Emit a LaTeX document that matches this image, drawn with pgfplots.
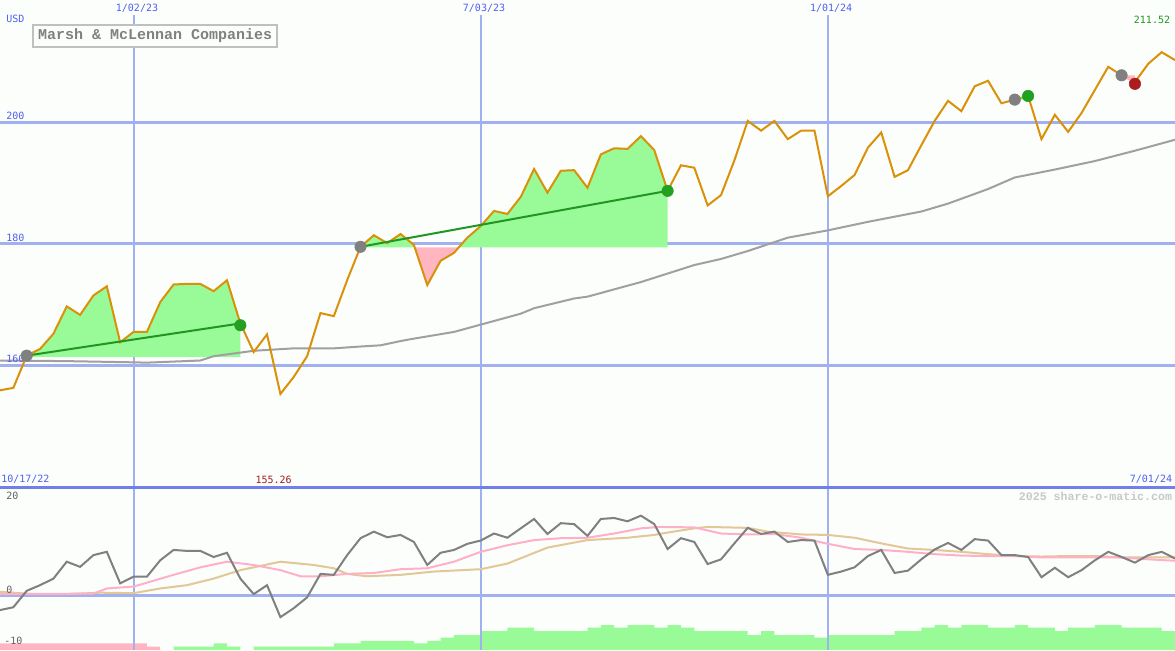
\documentclass[border=0pt]{standalone}
\usepackage{pgfplots}
\pgfplotsset{compat=1.18}
\usepackage{fontspec}
\setmainfont{Liberation Mono}
\newfontfamily\lblfont{DejaVu Sans Mono}
\definecolor{bgC}{RGB}{252,254,252}
\definecolor{gridC}{RGB}{160,176,240}
\definecolor{sepC}{RGB}{112,128,232}
\definecolor{tickC}{RGB}{80,96,240}
\definecolor{priceC}{RGB}{218,145,10}
\definecolor{maC}{RGB}{160,160,160}
\definecolor{fillG}{RGB}{152,251,152}
\definecolor{fillP}{RGB}{255,182,193}
\definecolor{trendG}{RGB}{34,150,34}
\definecolor{mkG}{RGB}{34,160,34}
\definecolor{mkGray}{RGB}{128,128,128}
\definecolor{mkR}{RGB}{170,30,30}
\definecolor{loC}{RGB}{160,30,30}
\definecolor{hiC}{RGB}{34,150,34}
\definecolor{titC}{RGB}{128,128,128}
\definecolor{boxC}{RGB}{192,192,192}
\definecolor{wmC}{RGB}{200,200,200}
\definecolor{bGray}{RGB}{128,128,128}
\definecolor{bPink}{RGB}{255,176,200}
\definecolor{bTan}{RGB}{225,200,150}
\definecolor{lblC}{RGB}{96,96,96}
\pgfplotstableread{
i price
0 155.9
1 156.3
2 161.6
3 162.7
4 165.2
5 169.7
6 168.3
7 171.5
8 173.0
9 163.8
10 165.5
11 165.5
12 170.4
13 173.3
14 173.4
15 173.4
16 172.2
17 174.0
18 166.9
19 162.2
20 165.1
21 155.3
22 158.1
23 161.5
24 168.6
25 168.1
26 174.0
27 179.5
28 181.4
29 180.1
30 181.6
31 179.8
32 173.2
33 177.2
34 178.5
35 181.0
36 182.9
37 185.4
38 184.9
39 187.7
40 192.3
41 188.4
42 192.0
43 192.1
44 189.2
45 194.7
46 195.7
47 195.6
48 197.7
49 195.4
50 188.7
51 192.9
52 192.5
53 186.3
54 188.0
55 193.7
56 200.2
57 198.6
58 200.2
59 197.2
60 198.6
61 198.6
62 187.8
63 189.5
64 191.3
65 195.8
66 198.3
67 191.0
68 192.1
69 196.2
70 200.2
71 203.5
72 201.8
73 205.9
74 206.8
75 203.1
76 203.7
77 204.3
78 197.2
79 201.2
80 198.4
81 201.5
82 205.3
83 209.1
84 207.7
85 206.6
86 209.6
87 211.5
88 210.2
}\pricetab
\pgfplotstableread{
i osc
0 -3.2
1 -2.6
2 0.9
3 2.1
4 3.5
5 7.1
6 6.0
7 8.5
8 9.2
9 2.5
10 3.9
11 3.9
12 7.4
13 9.6
14 9.4
15 9.4
16 8.1
17 9.0
18 3.5
19 0.2
20 2.1
21 -4.7
22 -2.8
23 -0.5
24 4.5
25 4.3
26 8.5
27 12.1
28 13.5
29 12.3
30 12.8
31 11.3
32 6.4
33 9.0
34 9.6
35 10.9
36 11.6
37 13.1
38 12.2
39 14.2
40 16.2
41 13.0
42 15.3
43 15.1
44 12.6
45 16.2
46 16.4
47 15.7
48 16.9
49 15.1
50 9.8
51 12.1
52 11.3
53 6.6
54 7.6
55 11.0
56 14.3
57 13.0
58 13.5
59 11.3
60 11.7
61 11.6
62 4.3
63 5.0
64 5.9
65 8.3
66 9.6
67 4.7
68 5.2
69 7.6
70 9.7
71 11.1
72 9.6
73 11.9
74 11.6
75 8.5
76 8.5
77 8.1
78 3.8
79 5.8
80 3.8
81 5.3
82 7.4
83 9.2
84 8.1
85 6.9
86 8.5
87 9.2
88 7.8
}\osctab
\begin{document}
\begin{tikzpicture}
\begin{axis}[name=top, at={(0,0)}, anchor=north west, scale only axis,
  width=881.25pt, height=365.25pt, xmin=0, xmax=88, ymin=140, ymax=220.08,
  axis lines=none, xtick=\empty, ytick=\empty, clip=false,
  axis background/.style={fill=bgC}]
\coordinate (TL) at (rel axis cs:0,1);
% grid
\draw[gridC, line width=2.25pt] (axis cs:0,160) -- (axis cs:88,160);
\draw[gridC, line width=2.25pt] (axis cs:0,180) -- (axis cs:88,180);
\draw[gridC, line width=2.25pt] (axis cs:0,200) -- (axis cs:88,200);
\draw[gridC, line width=1.5pt] (axis cs:10,217.6) -- (axis cs:10,140);
\draw[gridC, line width=1.5pt] (axis cs:36,217.6) -- (axis cs:36,140);
\draw[gridC, line width=1.5pt] (axis cs:62,217.6) -- (axis cs:62,140);
% fills
\addplot[fill=fillG, draw=none] coordinates {(2,161.4)(2,161.6)(3,162.7)(4,165.2)(5,169.7)(6,168.3)(7,171.5)(8,173.0)(9,163.8)(10,165.5)(11,165.5)(12,170.4)(13,173.3)(14,173.4)(15,173.4)(16,172.2)(17,174.0)(18,166.9)(18,161.4)};
\addplot[fill=fillG, draw=none] coordinates {(27,179.4)(27,179.5)(28,181.4)(29,180.1)(30,181.6)(31,179.8)(31.05,179.4)};
\addplot[fill=fillP, draw=none] coordinates {(31.05,179.4)(32,173.2)(33,177.2)(34,178.5)(34.4,179.4)};
\addplot[fill=fillG, draw=none] coordinates {(34.4,179.4)(35,181.0)(36,182.9)(37,185.4)(38,184.9)(39,187.7)(40,192.3)(41,188.4)(42,192.0)(43,192.1)(44,189.2)(45,194.7)(46,195.7)(47,195.6)(48,197.7)(49,195.4)(50,188.7)(50,179.4)};
\addplot[fill=fillG, draw=none] coordinates {(76,203.7)(77,204.3)(77,203.7)};
\addplot[fill=fillP, draw=none] coordinates {(84,207.7)(85,206.6)(85,207.7)};
% moving average
\addplot[maC, line width=1.5pt] coordinates {(0,160.8)(5,160.7)(10,160.5)(11,160.45)(15,160.8)(16,161.5)(19,162.4)(22,162.8)(25,162.8)(27,163.1)(28.5,163.3)(30,164.0)(31,164.4)(34,165.5)(36,166.7)(39,168.5)(40,169.4)(43,171.0)(44,171.3)(48,173.7)(50,175.1)(52,176.5)(54,177.5)(56,178.8)(59,181.0)(62,182.2)(65,183.6)(69,185.3)(71,186.6)(74,189.0)(76,190.9)(79,192.2)(82,193.6)(85,195.3)(88,197.1)};
% price
\addplot[priceC, line width=1.5pt] table[x=i, y=price] {\pricetab};
% trend lines
\addplot[trendG, line width=1.5pt] coordinates {(2,161.6)(18,166.9)};
\addplot[trendG, line width=1.5pt] coordinates {(27,179.5)(50,188.7)};
\addplot[yellow!60!green, line width=1.5pt] coordinates {(76,203.7)(77,204.3)};
\addplot[fillP, line width=1.5pt] coordinates {(84,207.7)(85,206.6)};
% markers
\addplot[only marks, mark=*, mark size=4.3pt, mkGray] coordinates {(2,161.6)(27,179.5)(76,203.7)(84,207.7)};
\addplot[only marks, mark=*, mark size=4.3pt, mkG] coordinates {(18,166.6)(50,188.7)(77,204.3)};
\addplot[only marks, mark=*, mark size=4.3pt, mkR] coordinates {(85,206.3)};
% labels
\node[tickC, anchor=west, inner sep=0pt, font=\lblfont\fontsize{7.5}{9}\selectfont] at (axis cs:0.45,217.0) {USD};
\node[tickC, inner sep=0pt, font=\lblfont\fontsize{7.5}{9}\selectfont] at (axis cs:10.26,218.8) {1/02/23};
\node[tickC, inner sep=0pt, font=\lblfont\fontsize{7.5}{9}\selectfont] at (axis cs:36.25,218.8) {7/03/23};
\node[tickC, inner sep=0pt, font=\lblfont\fontsize{7.5}{9}\selectfont] at (axis cs:62.25,218.8) {1/01/24};
\node[hiC, anchor=east, inner sep=0pt, font=\lblfont\fontsize{7.5}{9}\selectfont] at (axis cs:87.65,216.8) {211.52};
\node[tickC, anchor=west, inner sep=0pt, font=\lblfont\fontsize{7.5}{9}\selectfont] at (axis cs:0.45,201.0) {200};
\node[tickC, anchor=west, inner sep=0pt, font=\lblfont\fontsize{7.5}{9}\selectfont] at (axis cs:0.45,181.0) {180};
\node[tickC, anchor=west, inner sep=0pt, font=\lblfont\fontsize{7.5}{9}\selectfont] at (axis cs:0.45,161.1) {160};
\node[tickC, anchor=west, inner sep=0pt, font=\lblfont\fontsize{7.5}{9}\selectfont] at (axis cs:0.08,141.2) {10/17/22};
\node[loC, inner sep=0pt, font=\lblfont\fontsize{7.5}{9}\selectfont] at (axis cs:20.49,141.2) {155.26};
\node[tickC, anchor=east, inner sep=0pt, font=\lblfont\fontsize{7.5}{9}\selectfont] at (axis cs:87.8,141.2) {7/01/24};
\node[draw=boxC, line width=1.5pt, fill=bgC, text=titC, font=\bfseries\fontsize{11.25}{13}\selectfont, inner xsep=4pt, inner ysep=0pt, minimum height=17pt] at (axis cs:11.61,214.15) {Marsh \& McLennan Companies};
\end{axis}
\begin{axis}[name=bot, at={(top.south west)}, anchor=north west, scale only axis,
  width=881.25pt, height=122.25pt, xmin=0, xmax=88, ymin=-11.7, ymax=23,
  axis lines=none, xtick=\empty, ytick=\empty, clip=false,
  axis background/.style={fill=bgC}]
\coordinate (BR) at (rel axis cs:1,0);
% bars
\addplot[fill=fillP, draw=none, const plot] coordinates {(0,-11.7)(0,-10.28)(11,-11.0)(12,-11.7)};
\addplot[fill=fillG, draw=none, const plot] coordinates {(13,-11.7)(13,-11.0)(16,-10.28)(17,-11.0)(18,-11.7)};
\addplot[fill=fillG, draw=none, const plot] coordinates {(19,-11.7)(19,-11.0)(25,-10.28)(27,-9.74)(31,-10.28)(32,-9.74)(33,-9.09)(34,-8.51)(36,-7.66)(38,-6.96)(40,-7.66)(44,-6.96)(45,-6.38)(46,-6.96)(47,-6.38)(49,-6.96)(50,-6.38)(51,-6.96)(52,-7.66)(56,-8.51)(57,-7.66)(58,-8.51)(61,-9.09)(62,-8.51)(67,-7.66)(69,-6.96)(70,-6.38)(71,-6.96)(72,-6.38)(74,-6.96)(76,-6.38)(77,-6.96)(79,-7.66)(80,-6.96)(82,-6.38)(84,-6.96)(87,-7.66)(88,-7.66)(88,-11.7)};
% grid
\draw[gridC, line width=2.25pt] (axis cs:0,0) -- (axis cs:88,0);
\draw[gridC, line width=1.5pt] (axis cs:10,23) -- (axis cs:10,-11.7);
\draw[gridC, line width=1.5pt] (axis cs:36,23) -- (axis cs:36,-11.7);
\draw[gridC, line width=1.5pt] (axis cs:62,23) -- (axis cs:62,-11.7);
\draw[sepC, line width=2.25pt] (axis cs:0,23) -- (axis cs:88,23);
% lines
\addplot[bTan, line width=1.5pt] coordinates {(0,0.7)(2.5,0.2)(5,0.2)(7.5,0.5)(10,0.4)(12,1.4)(14,2.1)(16,3.5)(18,5.3)(19.5,6.2)(21,7.1)(23.5,6.4)(25,5.7)(26,4.5)(27.5,4.0)(30,4.3)(32.5,5.0)(36,5.5)(38,6.7)(41,10.1)(44,11.7)(47,12.2)(49,12.8)(50,13.3)(52,14.2)(53,14.5)(56,14.3)(57.5,13.5)(60,12.9)(62,12.8)(64,12.2)(66,11.0)(68,9.9)(70,9.6)(72,9.2)(74,8.7)(76,8.3)(78,8.2)(80,8.3)(82,8.3)(84,8.0)(86,8.0)(88,8.0)};
\addplot[bPink, line width=1.5pt] coordinates {(0,0.2)(7,0.3)(8,1.4)(10,1.8)(13,4.3)(15,5.9)(17,7.1)(19,6.4)(21,5.3)(22.5,4.0)(24,4.0)(26,4.5)(28,4.7)(30,5.5)(32,5.7)(34,7.1)(36,9.2)(38,10.6)(40,11.7)(42,12.1)(44,12.2)(46,13.1)(48,14.2)(49.4,14.5)(52,14.4)(54,13.1)(56,12.9)(58,13.0)(60,12.2)(62,10.9)(64,9.8)(66,9.6)(68,9.2)(70,8.7)(72,8.4)(74,8.3)(76,8.3)(78,8.0)(80,8.0)(82,8.0)(84,8.0)(86,7.6)(88,7.3)};
\addplot[bGray, line width=1.5pt] table[x=i, y=osc] {\osctab};
% labels
\node[lblC, anchor=west, inner sep=0pt, font=\lblfont\fontsize{7.5}{9}\selectfont] at (axis cs:0.45,21.06) {20};
\node[lblC, anchor=west, inner sep=0pt, font=\lblfont\fontsize{7.5}{9}\selectfont] at (axis cs:0.45,1.06) {0};
\node[lblC, anchor=west, inner sep=0pt, font=\lblfont\fontsize{7.5}{9}\selectfont] at (axis cs:0.3,-9.79) {-10};
\node[wmC, anchor=east, inner sep=0pt, font=\bfseries\fontsize{8.7}{10}\selectfont] at (axis cs:87.8,21.06) {2025 share-o-matic.com};
\end{axis}
\pgfresetboundingbox
\useasboundingbox (TL) rectangle (BR);
\end{tikzpicture}
\end{document}
